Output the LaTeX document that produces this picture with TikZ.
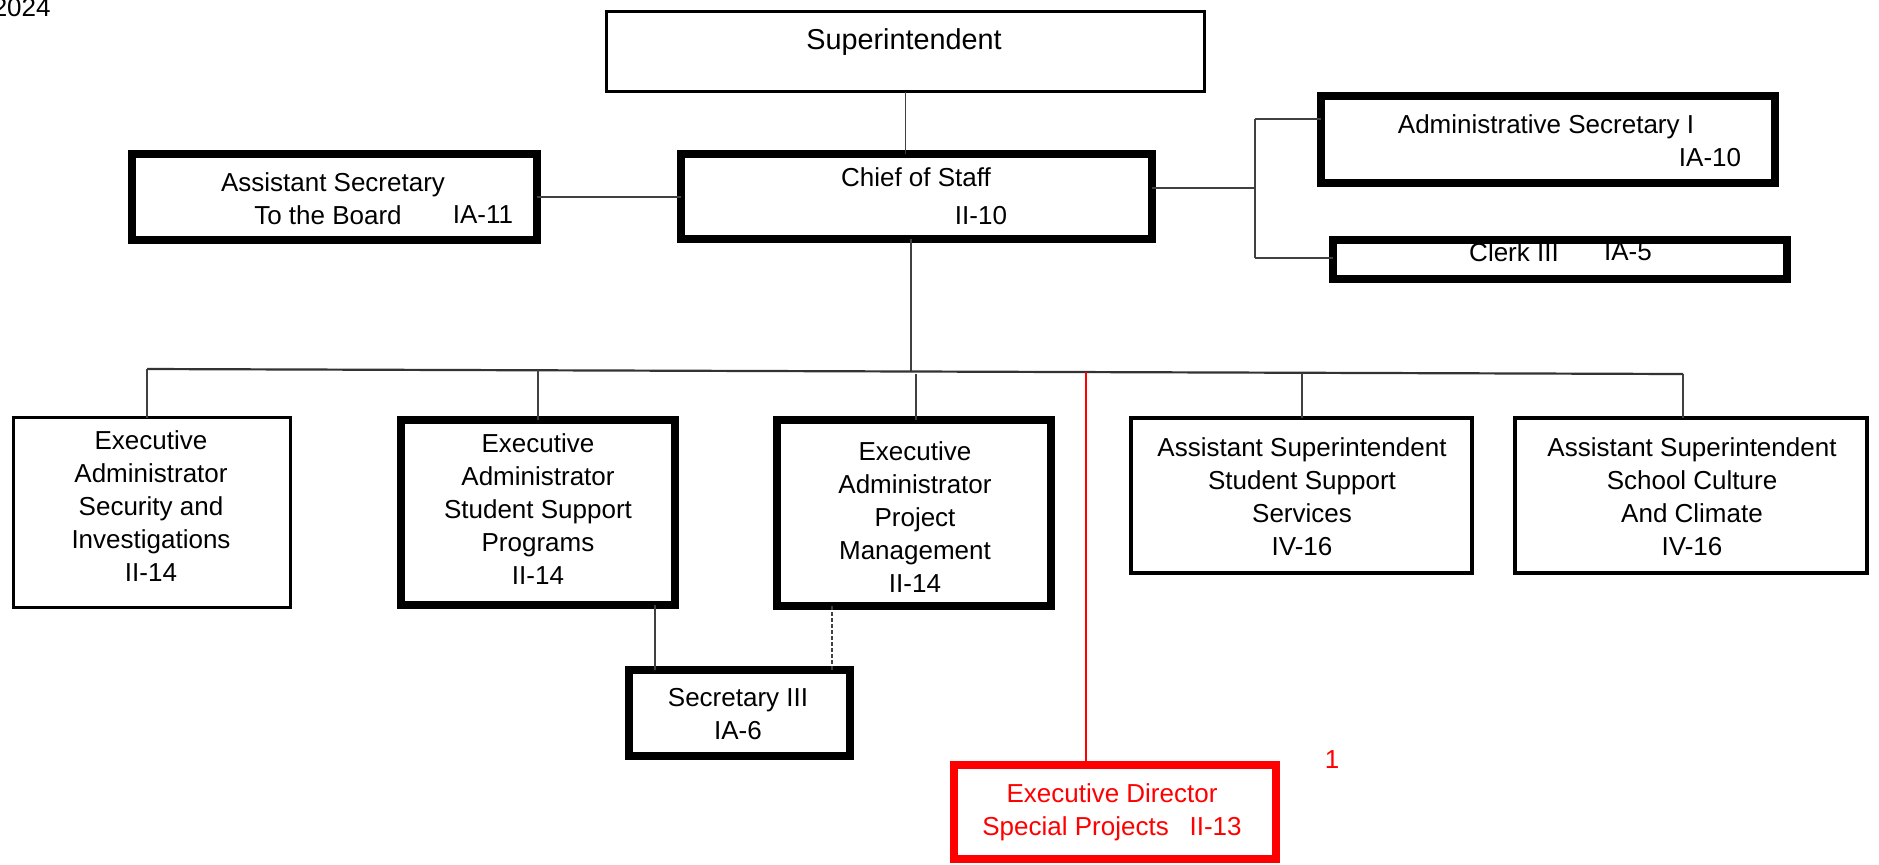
\documentclass[tikz,border=0pt]{standalone}
\usepackage{fontspec}
\setmainfont{Liberation Sans}
\begin{document}
\begin{tikzpicture}[x=0.5pt,y=-0.5pt,
  box/.style={draw, inner sep=0pt, outer sep=0pt, fill=white},
  thinbox/.style={box, line width=1.5pt},
  medbox/.style={box, line width=2pt},
  thickbox/.style={box, line width=4pt},
  txt/.style={inner sep=0pt, align=center, font=\fontsize{13}{16.5}\selectfont},
  conn/.style={line width=0.7pt, draw=black!75},
  redconn/.style={line width=0.7pt, draw=red}]
\useasboundingbox (0,0) rectangle (1879,864);

% boxes
\node[thinbox, minimum width=299pt, minimum height=40pt] (sup) at (905.5,51.5) {};
\node[thickbox, minimum width=235.5pt, minimum height=42.5pt] (cos) at (916.5,196.5) {};
\node[thickbox, minimum width=202.5pt, minimum height=43pt] (asb) at (334.5,197) {};
\node[thickbox, minimum width=227pt, minimum height=43.5pt] (as1) at (1548,139.5) {};
\node[thickbox, minimum width=227pt, minimum height=19.5pt] (clk) at (1560,259.5) {};
\node[thinbox, minimum width=138.5pt, minimum height=95pt] (sec) at (152,512.5) {};
\node[thickbox, minimum width=137pt, minimum height=92.5pt] (ssp) at (538,512.5) {};
\node[thickbox, minimum width=137pt, minimum height=93pt] (pm) at (914,513) {};
\node[medbox, minimum width=170.5pt, minimum height=77.5pt] (sss) at (1301.5,495.5) {};
\node[medbox, minimum width=176pt, minimum height=77.5pt] (scc) at (1691,495.5) {};
\node[thickbox, minimum width=110.5pt, minimum height=43pt] (s3) at (739,713) {};
\node[thickbox, draw=red, minimum width=161pt, minimum height=47pt] (ed) at (1114.5,811.5) {};

% texts
\node[txt, anchor=east] (yr) at (51,8) {2024};
\node[txt, font=\fontsize{14.4}{17}\selectfont] (tsup) at (904,42) {Superintendent};
\node[txt] (tcos1) at (916,177.5) {Chief of Staff};
\node[txt] (tcos2) at (981,216) {II-10};
\node[txt] (tasb1) at (333,184.5) {Assistant Secretary};
\node[txt] (tasb2) at (328,215) {To the Board};
\node[txt] (tasb3) at (483,215) {IA-11};
\node[txt] (tas11) at (1546,126.5) {Administrative Secretary I};
\node[txt] (tas12) at (1710,158) {IA-10};
\node[txt] (tclk1) at (1514,252) {Clerk III};
\node[txt] (tclk2) at (1628,252) {IA-5};
\node[txt] (tsec) at (151,506) {Executive\\Administrator\\Security and\\Investigations\\II-14};
\node[txt] (tssp) at (538,509) {Executive\\Administrator\\Student Support\\Programs\\II-14};
\node[txt] (tpm) at (915,517) {Executive\\Administrator\\Project\\Management\\II-14};
\node[txt] (tsss) at (1302,497) {Assistant Superintendent\\Student Support\\Services\\IV-16};
\node[txt] (tscc) at (1692,497) {Assistant Superintendent\\School Culture\\And Climate\\IV-16};
\node[txt] (ts3) at (738,714) {Secretary III\\IA-6};
\node[txt, text=red] (ted) at (1112,812.5) {Executive Director\\Special Projects\hspace{0.8em}II-13};
\node[txt, text=red] (one) at (1332,760) {1};

% coordinates
\coordinate (jR) at (1255,188);
\coordinate (jRt) at (1255,119);
\coordinate (jRb) at (1255,258);
\coordinate (busL) at (147,369);
\coordinate (busR) at (1683,374);
\coordinate (busM) at (911,371);
\coordinate (dSSP) at (538,370);
\coordinate (dPM) at (916,374);
\coordinate (dSSS) at (1302,373);
\coordinate (dRed) at (1086,372);
\coordinate (dS3a) at (655,600);
\coordinate (dS3b) at (832,600);

% connectors
\draw[conn] (sup.south) -- (sup.south |- cos.north);
\draw[conn] (asb.east) -- (asb.east -| cos.west);
\draw[conn] (cos.east |- jR) -- (jR);
\draw[conn] (jRt) -- (jRb);
\draw[conn] (jRt) -- (jRt -| as1.west);
\draw[conn] (jRb) -- (jRb -| clk.west);
\draw[conn] (busM |- cos.south) -- (busM);
\draw[line width=1.1pt, draw=black!80] (busL) -- (busR);
\draw[conn] (busL) -- (busL |- sec.north);
\draw[conn] (dSSP) -- (dSSP |- ssp.north);
\draw[conn] (dPM) -- (dPM |- pm.north);
\draw[conn] (dSSS) -- (dSSS |- sss.north);
\draw[conn] (busR) -- (busR |- scc.north);
\draw[redconn] (dRed) -- (dRed |- ed.north);
\draw[conn] (dS3a |- ssp.south) -- (dS3a |- s3.north);
\draw[conn, dashed, dash pattern=on 2pt off 1pt] (dS3b |- pm.south) -- (dS3b |- s3.north);
\end{tikzpicture}
\end{document}
